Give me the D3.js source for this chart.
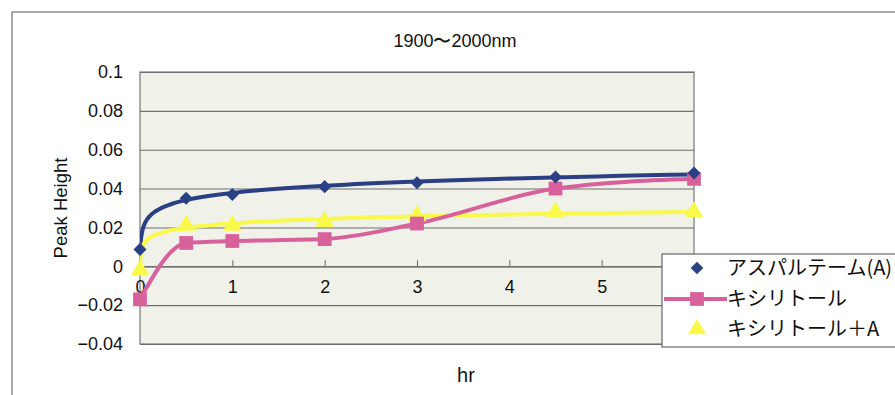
<!DOCTYPE html>
<html>
<head>
<meta charset="UTF-8">
<style>
  body { margin: 0; background: #fff; }
  text { font-family: "Liberation Sans", Arial, sans-serif; fill: #111; }
  .jp { font-family: "Noto Sans CJK JP", sans-serif; }
</style>
</head>
<body>
<script src="https://d3js.org/d3.v7.min.js"></script>
<svg id="svg" width="895" height="395"></svg>
<script>
// data
var hours = [0, 0.5, 1, 2, 3, 4.5, 6];
var aspartame = [0.0087, 0.035, 0.037, 0.041, 0.043, 0.046, 0.048];
var xylitol = [-0.017, 0.012, 0.013, 0.014, 0.022, 0.040, 0.045];
var xylitolA = [-0.002, 0.021, 0.021, 0.023, 0.026, 0.028, 0.028];
var seriesNames = ["アスパルテーム(A)", "キシリトール", "キシリトール＋A"];
var xTicks = [0, 1, 2, 3, 4, 5];
var yTicks = [-0.04, -0.02, 0, 0.02, 0.04, 0.06, 0.08, 0.1];

var svg = d3.select("#svg");
var pl = 140, pr = 694, pt = 72, pb = 344;

var x = d3.scaleLinear().domain([0, 6]).range([pl, pr]);
var y = d3.scaleLinear().domain([-0.04, 0.1]).range([pb, pt]);

// outer chart frame
svg.append("rect").attr("x", 12).attr("y", 12).attr("width", 900).attr("height", 420)
  .attr("fill", "#fff").attr("stroke", "#555").attr("stroke-width", 1);

// plot area
svg.append("rect").attr("x", pl).attr("y", pt).attr("width", pr - pl).attr("height", pb - pt)
  .attr("fill", "#f0f2ea").attr("stroke", "#777").attr("stroke-width", 1.2);

svg.append("defs").append("clipPath").attr("id", "clip")
  .append("rect").attr("x", pl).attr("y", pt).attr("width", pr - pl).attr("height", pb - pt);

// gridlines + y labels
svg.append("g").attr("transform", "translate(" + pl + ",0)")
  .call(d3.axisLeft(y).tickValues(yTicks).tickSize(-(pr - pl)).tickFormat(function(d) {
    return d === 0 ? "0" : String(+d.toFixed(2)).replace("-", "−");
  }))
  .call(function(g) {
    g.select(".domain").remove();
    g.selectAll(".tick line").attr("stroke", "#6f6f6f").attr("stroke-width", 1.1);
    g.selectAll(".tick text").attr("x", -17).attr("font-size", 18).attr("font-family", "Liberation Sans, Arial, sans-serif").attr("fill", "#111");
  });

// x axis at zero, ticks pointing up
svg.append("g").attr("transform", "translate(0," + y(0) + ")")
  .call(d3.axisBottom(x).tickValues(xTicks).tickSize(-6).tickPadding(14).tickFormat(d3.format("d")))
  .call(function(g) {
    g.select(".domain").attr("stroke", "#666").attr("stroke-width", 1.2);
    g.selectAll(".tick line").attr("stroke", "#666");
    g.selectAll(".tick text").attr("font-size", 18).attr("font-family", "Liberation Sans, Arial, sans-serif").attr("fill", "#111");
  });

// log trendline fitted to the points with x > 0, drawn down to the first measured value
function logFit(vals) {
  var pts = hours.map(function(h, i) { return [h, vals[i]]; }).filter(function(p) { return p[0] > 0; });
  var mx = d3.mean(pts, function(p) { return Math.log(p[0]); });
  var my = d3.mean(pts, function(p) { return p[1]; });
  var sxy = d3.sum(pts, function(p) { return (Math.log(p[0]) - mx) * (p[1] - my); });
  var sxx = d3.sum(pts, function(p) { return Math.pow(Math.log(p[0]) - mx, 2); });
  var a = sxy / sxx, b = my - a * mx;
  var x0 = Math.exp((vals[0] - b) / a);
  var xs = d3.ticks(Math.log(x0), Math.log(6), 120).map(Math.exp).concat([x0, 6]).sort(d3.ascending);
  return xs.map(function(v) { return [v, a * Math.log(v) + b]; });
}

var line = d3.line().x(function(d) { return x(d[0]); }).y(function(d) { return y(d[1]); });
var plot = svg.append("g").attr("clip-path", "url(#clip)");

var blue = "#2b3f84", pink = "#d8619c", yellow = "#f9f94a";

plot.append("path").attr("d", line.curve(d3.curveLinear)(logFit(aspartame)))
  .attr("fill", "none").attr("stroke", blue).attr("stroke-width", 4);
plot.append("path").attr("d", line.curve(d3.curveLinear)(logFit(xylitolA)))
  .attr("fill", "none").attr("stroke", yellow).attr("stroke-width", 4);
plot.append("path").attr("d", line.curve(d3.curveMonotoneX)(hours.map(function(h, i) { return [h, xylitol[i]]; })))
  .attr("fill", "none").attr("stroke", pink).attr("stroke-width", 4);

var sym = d3.symbol();
function markers(vals, type, size, color, rot) {
  svg.append("g").selectAll("path").data(vals).join("path")
    .attr("transform", function(d, i) { return "translate(" + x(hours[i]) + "," + y(d) + ") rotate(" + (rot || 0) + ")"; })
    .attr("d", sym.type(type).size(size)())
    .attr("fill", color);
}
markers(xylitolA, d3.symbolTriangle, 150, yellow);
markers(xylitol, d3.symbolSquare, 190, pink);
markers(aspartame, d3.symbolSquare, 85, blue, 45);

// titles
svg.append("text").attr("x", 455).attr("y", 47).attr("text-anchor", "middle").attr("font-size", 18).text("1900〜2000nm");
svg.append("text").attr("transform", "translate(67,208) rotate(-90)").attr("text-anchor", "middle").attr("font-size", 18.5).text("Peak Height");
svg.append("text").attr("x", 466).attr("y", 382).attr("text-anchor", "middle").attr("font-size", 20).text("hr");

// legend
var lg = svg.append("g");
lg.append("rect").attr("x", 662).attr("y", 254).attr("width", 260).attr("height", 93)
  .attr("fill", "#fff").attr("stroke", "#666").attr("stroke-width", 1.2);
var rowsY = [268, 299, 329];
lg.append("path").attr("transform", "translate(697," + rowsY[0] + ") rotate(45)").attr("d", sym.type(d3.symbolSquare).size(80)()).attr("fill", blue);
lg.append("line").attr("x1", 664).attr("x2", 727).attr("y1", rowsY[1]).attr("y2", rowsY[1]).attr("stroke", pink).attr("stroke-width", 4);
lg.append("path").attr("transform", "translate(697," + rowsY[1] + ")").attr("d", sym.type(d3.symbolSquare).size(190)()).attr("fill", pink);
lg.append("path").attr("transform", "translate(697," + rowsY[2] + ")").attr("d", sym.type(d3.symbolTriangle).size(140)()).attr("fill", yellow);
lg.selectAll(".lt").data(seriesNames).join("text").attr("class", "jp")
  .attr("x", 727)
  .attr("y", function(d, i) { return rowsY[i]; })
  .attr("dy", "0.36em").attr("font-size", 20).text(function(d) { return d; });
</script>
</body>
</html>
